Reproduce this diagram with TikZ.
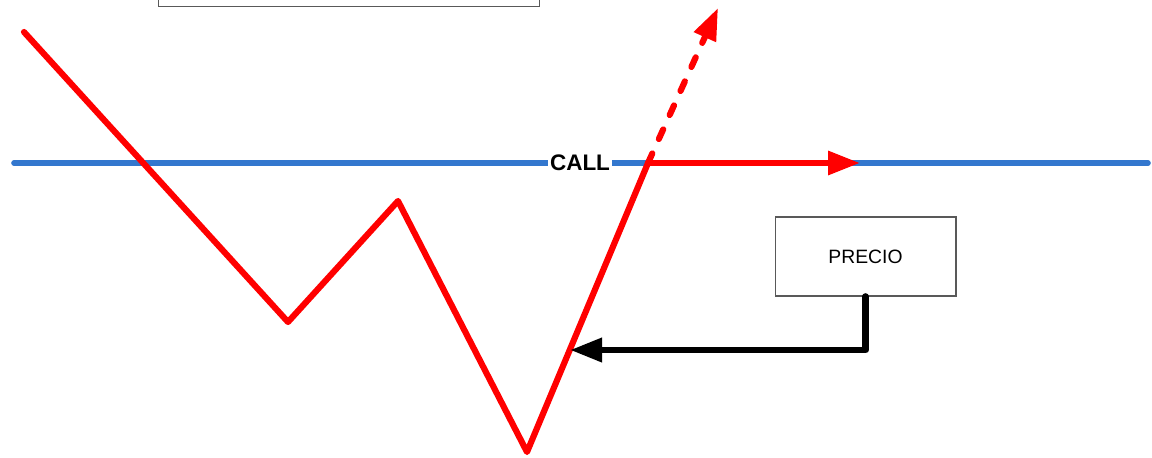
\documentclass[tikz,border=0pt]{standalone}
\usepackage{fontspec}
\setmainfont{Liberation Sans}
\usetikzlibrary{arrows.meta}
\definecolor{callblue}{RGB}{51,119,206}

\begin{document}
\begin{tikzpicture}[x=0.02cm,y=-0.02cm,
  trend/.style={draw=red,line width=3.5pt,line cap=round,line join=round},
  tip/.style={-{Triangle[length=0.64cm,width=0.46cm]}},
  box/.style={draw=black!65,line width=0.6pt,fill=white,minimum width=3.62cm,minimum height=1.58cm,font=\fontsize{11pt}{13pt}\selectfont}]
  \useasboundingbox (0,0) rectangle (1152,457);
  % caja superior (cortada)
  \node[box,anchor=south,minimum width=7.64cm,minimum height=1cm](top) at (349,7) {};
  % linea del call
  \coordinate (l0) at (14,163);
  \coordinate (l1) at (1148,163);
  \draw[callblue,line width=3.2pt,line cap=round](l0)--(l1);
  \node[fill=white,inner sep=1pt,font=\bfseries\fontsize{12.8pt}{14pt}\selectfont](call) at (580,163) {CALL};
  % precio
  \coordinate (p0) at (24,32);
  \coordinate (p1) at (288,322);
  \coordinate (p2) at (398,201);
  \coordinate (p3) at (527,452);
  \coordinate (cr) at (648,163);
  \coordinate (hit) at (570,350);
  \coordinate (fin) at (860,163);
  \coordinate (up) at (718,8);
  \draw[trend](p0)--(p1)--(p2)--(p3)--(cr);
  \draw[trend,tip](cr)--(fin);
  \draw[trend,dash pattern=on 6pt off 9pt,tip](cr)--(up);
  \node[box](precio) at (865.5,256.5) {PRECIO};
  \draw[line width=3.8pt,line cap=round,line join=round,tip](precio.south)|-(hit);
\end{tikzpicture}
\end{document}
